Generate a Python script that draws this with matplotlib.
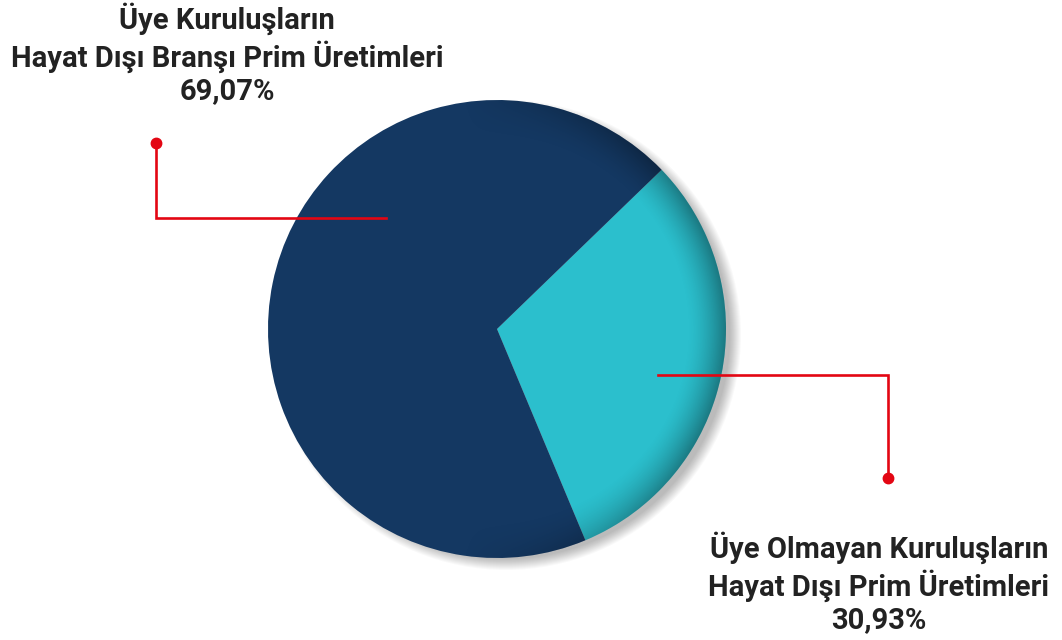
import matplotlib

matplotlib.use("Agg")

import matplotlib.pyplot as plt
import numpy as np
from matplotlib.patches import Circle

plt.rcParams["font.family"] = ["Roboto", "DejaVu Sans"]

# data
labels = ["Üye Olmayan Kuruluşların\nHayat Dışı Prim Üretimleri",
          "Üye Kuruluşların\nHayat Dışı Branşı Prim Üretimleri"]
shares = [30.93, 69.07]
colors = ["#2bbfcd", "#143862"]

W, H = 1062, 640
cx, cy, R = 497, H - 329, 229

fig = plt.figure(figsize=(W / 100, H / 100), dpi=100)
ax = fig.add_axes([0, 0, 1, 1])

# soft drop shadow, mostly to the right
for i in range(12):
    ax.add_patch(Circle((cx + 9, cy - 6), R + 6 - i, color="black",
                        alpha=0.025, lw=0, zorder=1))

wedges, _ = ax.pie(shares, colors=colors, startangle=-67.3, center=(cx, cy),
                   radius=R, counterclock=True, wedgeprops=dict(lw=0, zorder=2))

# darker rim on the right side
yy, xx = np.mgrid[0:H, 0:W]
dx, dy = xx - cx, (H - yy) - cy
r = np.hypot(dx, dy)
theta = np.arctan2(dy, dx)
rim = np.clip((r - (R - 40)) / 40, 0, 1) ** 1.6
side = np.clip(np.cos(theta) + 0.15, 0, 1)
shade = np.zeros((H, W, 4))
shade[..., 3] = 0.38 * rim * side
img = ax.imshow(shade, extent=(0, W, 0, H), origin="upper", zorder=3)
clip = Circle((cx, cy), R, transform=ax.transData)
img.set_clip_path(clip)

# leader lines
red = "#e30613"
ax.plot([156, 156, 386], [H - 143, H - 218, H - 218], color=red, lw=1.9,
        solid_joinstyle="miter", zorder=4)
ax.plot([156], [H - 143], "o", color=red, ms=7.5, zorder=5)
ax.plot([658, 888, 888], [H - 375, H - 375, H - 478], color=red, lw=1.9,
        solid_joinstyle="miter", zorder=4)
ax.plot([888], [H - 478], "o", color=red, ms=7.5, zorder=5)

txt = dict(ha="center", va="center", fontsize=21, fontweight="bold",
           color="#222222", linespacing=1.2, zorder=6)
ax.text(227, H - 54, f"{labels[1]}\n{shares[1]:.2f}%".replace(".", ","), **txt)
ax.text(879, H - 583, f"{labels[0]}\n{shares[0]:.2f}%".replace(".", ","), **txt)

ax.set_xlim(0, W)
ax.set_ylim(0, H)
ax.set_aspect("equal")
ax.axis("off")

fig.savefig("out.png", dpi=100, facecolor="white")
